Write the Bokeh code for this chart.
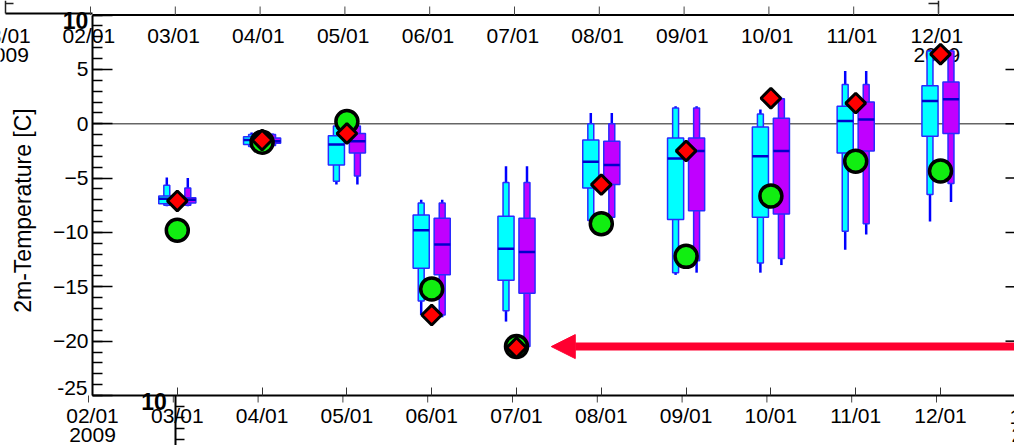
import numpy as np
from bokeh.plotting import figure
from bokeh.models import (Range1d, Label, Arrow, NormalHead, FixedTicker, LinearAxis,
                          SingleIntervalTicker, ColumnDataSource)
from bokeh.embed import file_html
from bokeh.resources import INLINE

# ---------------- data ----------------
tick_days = [2, 3, 4, 5, 6, 7, 8, 9, 10, 11, 12, 13]
tick_labels = ["02/01", "03/01", "04/01", "05/01", "06/01", "07/01",
               "08/01", "09/01", "10/01", "11/01", "12/01", "13/01"]
year_text = "2009"
y_title = "2m-Temperature [C]"
y_major = [-25, -20, -15, -10, -5, 0, 5, 10]
y_ticks_hidden = [10, -25]

days = [3, 4, 5, 6, 7, 8, 9, 10, 11, 12]

cyan_max = [-4.95, -0.8, -0.1, -7.0, -3.9, 1.0, 1.6, 1.3, 4.85, 6.8]
cyan_p90 = [-5.65, -1.0, -0.2, -7.3, -5.4, 0.0, 1.45, 0.9, 3.6, 6.7]
cyan_p75 = [-6.65, -1.2, -1.1, -8.4, -8.5, -1.5, -1.3, -0.3, 1.6, 3.5]
cyan_med = [-6.9, -1.5, -1.9, -9.8, -11.5, -3.5, -3.2, -3.0, 0.25, 2.1]
cyan_p25 = [-7.35, -1.9, -3.8, -13.3, -14.4, -5.9, -8.8, -8.6, -2.7, -1.15]
cyan_p10 = [-7.5, -2.1, -5.3, -16.3, -17.2, -8.9, -13.7, -12.8, -9.9, -6.5]
cyan_min = [-7.6, -2.2, -5.6, -17.6, -18.2, -9.0, -13.9, -13.7, -11.6, -9.0]

purple_max = [-5.0, -0.9, 0.0, -7.0, -3.9, 1.0, 1.6, 2.4, 4.85, 6.8]
purple_p90 = [-5.9, -1.0, -0.2, -7.3, -5.4, 0.0, 1.45, 2.3, 3.6, 6.7]
purple_p75 = [-6.8, -1.3, -0.9, -8.7, -8.7, -1.6, -1.3, 0.5, 2.0, 3.85]
purple_med = [-7.0, -1.6, -1.6, -11.1, -11.8, -3.8, -2.5, -2.5, 0.4, 2.25]
purple_p25 = [-7.3, -1.8, -2.7, -13.9, -15.6, -5.6, -8.0, -8.3, -2.5, -0.9]
purple_p10 = [-7.5, -2.0, -4.8, -17.6, -20.5, -8.6, -12.6, -12.4, -9.2, -5.5]
purple_min = [-7.6, -2.1, -5.6, -17.8, -20.7, -8.8, -13.7, -13.0, -10.2, -7.2]

deterministic = [-7.1, -1.5, -0.9, -17.6, -20.6, -5.6, -2.5, 2.35, 1.9, 6.4]
observed = [-9.8, -1.7, 0.2, -15.2, -20.5, -9.2, -12.2, -6.65, -3.45, -4.35]

arrow_value = -20.5
arrow_tip_day = 7.41

# ---------------- layout / style ----------------
FONT = "Liberation Sans"
FS = "21px"
CYAN = "#00ffff"
PURPLE = "#c000ff"
EDGE = "#2a2aff"
MEDC = "#0000cc"
GREEN = "#11ee11"
RED = "#ff0000"
ARROW = "#ff0030"

FIG_W, FIG_H = 1014, 445
AX_X, AX_Y = 92, 395          # pixel of the y axis line / x axis line
PX_DAY, PX_DEG = 84.8, 10.87
Y_BOTTOM, Y_TOP = -25, 10


def dx(px):
    return tick_days[0] + (px - AX_X) / PX_DAY


def dy(py):
    return Y_BOTTOM + (AX_Y - py) / PX_DEG


x_start, x_end = dx(0), dx(FIG_W)
y_start, y_end = dy(FIG_H), dy(0)

p = figure(width=FIG_W, height=FIG_H, output_backend="svg", toolbar_location=None,
           x_range=Range1d(x_start, x_end), y_range=Range1d(y_start, y_end),
           x_axis_location=None, y_axis_location=None,
           min_border_left=0, min_border_right=0, min_border_top=0, min_border_bottom=0)
p.outline_line_color = None
p.xgrid.visible = False
p.ygrid.visible = False
p.background_fill_color = "white"
p.border_fill_color = "white"

# x axis (fixed at the bottom of the main panel)
xa = LinearAxis(fixed_location=Y_BOTTOM, bounds=(tick_days[0], x_end + 1))
xa.ticker = FixedTicker(ticks=tick_days, minor_ticks=[])
xa.major_label_overrides = {d: lab for d, lab in zip(tick_days, tick_labels)}
xa.axis_line_width = 2
xa.axis_line_color = "black"
xa.major_tick_in = 8
xa.major_tick_out = 0
xa.major_tick_line_color = "#333333"
xa.major_tick_line_width = 1
xa.minor_tick_in = 0
xa.minor_tick_out = 0
xa.major_label_standoff = 8
xa.major_label_text_font = FONT
xa.major_label_text_font_size = FS
xa.major_label_text_color = "black"
p.add_layout(xa, "below")

# y axis (fixed at the left of the main panel)
ya = LinearAxis(fixed_location=tick_days[0], bounds=(Y_BOTTOM, Y_TOP))
ya.ticker = SingleIntervalTicker(interval=5, num_minor_ticks=5)
ya.major_label_overrides = {v: "" for v in y_ticks_hidden}
ya.axis_line_width = 2
ya.axis_line_color = "black"
ya.major_tick_in = 20
ya.major_tick_out = 0
ya.minor_tick_in = 10
ya.minor_tick_out = 0
ya.major_tick_line_width = 1.5
ya.minor_tick_line_width = 1.5
ya.major_tick_line_color = "black"
ya.minor_tick_line_color = "black"
ya.major_label_standoff = 4
ya.major_label_text_font = FONT
ya.major_label_text_font_size = FS
ya.major_label_text_color = "black"
p.add_layout(ya, "left")

# reference lines
p.segment(x0=[tick_days[0]], y0=[0], x1=[x_end], y1=[0], line_color="#666666",
          line_width=1.5)
p.segment(x0=[dx(5), tick_days[0]], y0=[dy(13), Y_TOP], x1=[tick_days[0], x_end],
          y1=[dy(13), Y_TOP], line_color="black", line_width=2)

# neighbouring panel frame pieces
p.segment(x0=[dx(5), dx(5), dx(938), dx(928)], y0=[dy(0), dy(3), dy(0), dy(3)],
          x1=[dx(5), dx(13), dx(938), dx(938)], y1=[dy(13), dy(3), dy(13), dy(3)],
          line_color="#222222", line_width=1.5)
up_x = [d - 2 / PX_DAY for d in tick_days]
p.segment(x0=up_x, y0=[Y_TOP] * len(up_x), x1=up_x, y1=[dy(6)] * len(up_x),
          line_color="#444444", line_width=1)
low_x = [d - 4 / PX_DAY for d in tick_days]
p.segment(x0=low_x, y0=[Y_BOTTOM] * len(low_x), x1=low_x, y1=[dy(AX_Y + 7)] * len(low_x),
          line_color="#444444", line_width=1)
p.segment(x0=[dx(175)], y0=[Y_BOTTOM], x1=[dx(175)], y1=[y_start], line_color="black",
          line_width=2)
low_minor = [406, 417, 428, 439]
p.segment(x0=[dx(175)] * 4, y0=[dy(v) for v in low_minor], x1=[dx(184)] * 4,
          y1=[dy(v) for v in low_minor], line_color="black", line_width=1.5)
right_major = [v for v in y_major if Y_BOTTOM < v < Y_TOP]
p.segment(x0=[dx(1005)] * len(right_major), y0=right_major,
          x1=[x_end] * len(right_major), y1=right_major, line_color="black",
          line_width=1.5)


def label(x, y, text, align="center", size=FS, style="normal", angle=0.0, level="annotation"):
    p.add_layout(Label(x=x, y=y, text=text, text_align=align, text_baseline="middle",
                       text_font=FONT, text_font_size=size, text_font_style=style,
                       text_color="black", angle=angle, level=level))


# upper panel labels (underneath glyphs)
for d, lab in zip(tick_days[:-1], tick_labels[:-1]):
    label(d - 3.7 / PX_DAY, dy(35), lab, level="underlay")
label(tick_days[-2] - 3.7 / PX_DAY, dy(54.5), year_text, level="underlay")
# left panel fragment
label(dx(4), dy(35), tick_labels[-1])
label(dx(5), dy(54.5), year_text)

# y tick labels at the ends (shifted inside)
label(dx(75), dy(20), str(y_ticks_hidden[0]), size="23px", style="bold")
label(dx(87), dy(387.5), str(y_ticks_hidden[1]), align="right")

# y title
label(dx(22), dy(210), y_title, size="23px", angle=np.pi / 2)

# years under first / last bottom ticks, last bottom tick
label(tick_days[0], dy(434.5), year_text)
label(dx(1009), dy(415.5), tick_labels[-1], align="left")
label(dx(1011), dy(434.5), year_text, align="left")

# lower panel label
label(dx(153.5), dy(400.5), str(Y_TOP), size="23px", style="bold")

# ---------------- box plots ----------------
OFF = 10.5 / PX_DAY
WIDE = 0.19
THIN = 0.07


def draw_box(xs, mn, p10, p25, med, p75, p90, mx, color):
    src = ColumnDataSource(dict(x=xs, mn=mn, p10=p10, p25=p25, med=med, p75=p75,
                                p90=p90, mx=mx,
                                xl=[v - WIDE / 2 for v in xs], xr=[v + WIDE / 2 for v in xs]))
    p.segment(x0="x", y0="mn", x1="x", y1="mx", source=src, line_color="#0000ff",
              line_width=2.5)
    p.vbar(x="x", width=THIN, bottom="p10", top="p90", source=src, fill_color=color,
           line_color=EDGE, line_width=1.5)
    p.vbar(x="x", width=WIDE, bottom="p25", top="p75", source=src, fill_color=color,
           line_color=EDGE, line_width=1.5)
    p.segment(x0="xl", y0="med", x1="xr", y1="med", source=src, line_color=MEDC,
              line_width=2.5)


draw_box([d - OFF for d in days], cyan_min, cyan_p10, cyan_p25, cyan_med, cyan_p75,
         cyan_p90, cyan_max, CYAN)
draw_box([d + OFF for d in days], purple_min, purple_p10, purple_p25, purple_med,
         purple_p75, purple_p90, purple_max, PURPLE)

p.scatter(x=days, y=observed, marker="circle", size=22, fill_color=GREEN,
          line_color="black", line_width=3.5)
p.scatter(x=days, y=deterministic, marker="square", angle=np.pi / 4, size=14,
          fill_color=RED, line_color="black", line_width=3)

# arrow
p.add_layout(Arrow(end=NormalHead(size=24, fill_color=ARROW, line_color=ARROW,
                                  line_width=1),
                   x_start=x_end + 0.5, y_start=arrow_value, x_end=arrow_tip_day,
                   y_end=arrow_value, line_color=ARROW, line_width=8))

open("out.html", "w").write(file_html(p, INLINE))
